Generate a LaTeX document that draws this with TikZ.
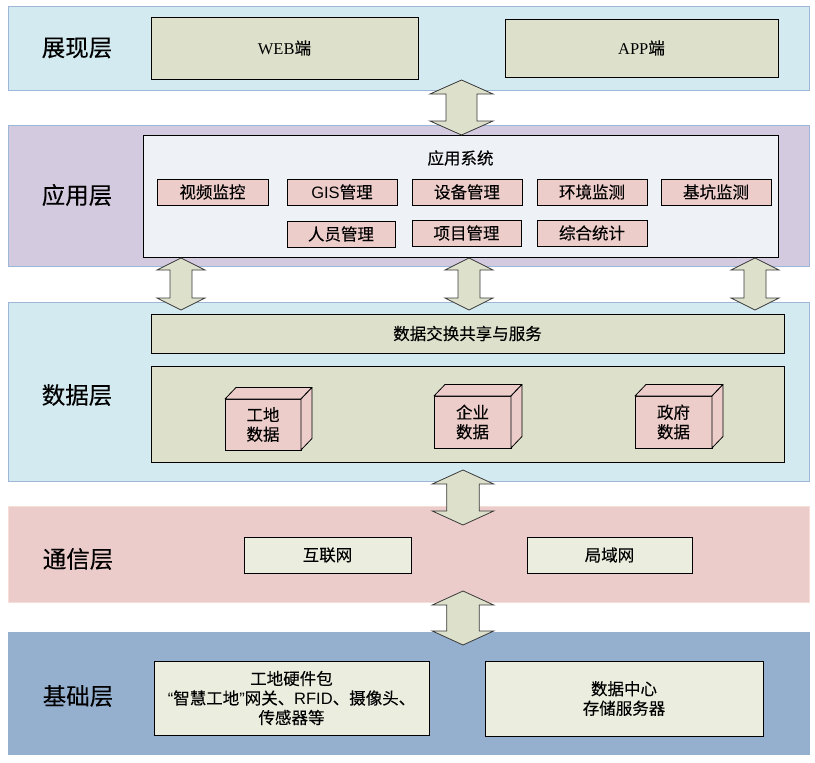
\documentclass[tikz,border=0pt]{standalone}
\usepackage{fontspec}
\setmainfont{Noto Sans CJK SC}[RawFeature={embolden=0.2}]
\newfontfamily\latsans{Liberation Sans}
\newfontfamily\latserif{Liberation Serif}
\definecolor{bandblue}{HTML}{D2EAF0}
\definecolor{bandborder}{HTML}{9EB6D8}
\definecolor{khaki}{HTML}{DDE1CB}
\definecolor{lavender}{HTML}{D4CADF}
\definecolor{paleinner}{HTML}{EEF1F6}
\definecolor{pinkbox}{HTML}{ECCDCA}
\definecolor{commband}{HTML}{EBCCCB}
\definecolor{commborder}{HTML}{F5DED6}
\definecolor{baseband}{HTML}{95AFCF}
\definecolor{paleg}{HTML}{EBEEDF}
\definecolor{arrowline}{HTML}{3A3A3A}
\newcommand\rectnode[7]{\node[#2, anchor=north west, minimum width={(#5-#3)*1pt}, minimum height={(#6-#4)*1pt}] (#1) at (#3,#4) {#7};}
% cx, top, bottom, shaft half width, head half width, head length
\newcommand\dblarrow[6]{\draw[blockarrow] (#1,#2) -- ({#1+#5},{#2+#6}) -- ({#1+#4},{#2+#6}) -- ({#1+#4},{#3-#6}) -- ({#1+#5},{#3-#6}) -- (#1,#3) -- ({#1-#5},{#3-#6}) -- ({#1-#4},{#3-#6}) -- ({#1-#4},{#2+#6}) -- ({#1-#5},{#2+#6}) -- cycle;}
\tikzset{
  base/.style={inner sep=0pt, outer sep=0pt, align=center, font=\fontsize{16.5}{19.5}\selectfont},
  band/.style={base, draw=bandborder, line width=0.8pt},
  box/.style={base, draw=black, line width=0.9pt},
  cubeface/.style={draw=black, line width=0.8pt, fill=pinkbox, line join=round},
  layerlabel/.style={inner sep=0pt, font=\fontsize{23.5}{26}\selectfont},
  blockarrow/.style={draw=arrowline, line width=0.8pt, fill=khaki, line join=miter}
}
\begin{document}
\begin{tikzpicture}[x=1pt, y=-1pt]
\useasboundingbox (0,0) rectangle (815,763);
% ---------- bands ----------
\rectnode{pres}{band, fill=bandblue}{8}{6}{809}{90}{}
\rectnode{app}{band, fill=lavender}{8}{125}{809}{266}{}
\rectnode{data}{band, fill=bandblue}{8}{302}{809}{481}{}
\rectnode{comm}{band, fill=commband, draw=commborder}{8}{506}{809}{602}{}
\rectnode{basel}{band, fill=baseband, draw=baseband}{8}{632}{809}{754}{}
% ---------- layer labels ----------
\node[layerlabel] (l1) at (77,48) {展现层};
\node[layerlabel] (l2) at (77,195) {应用层};
\node[layerlabel] (l3) at (77,395) {数据层};
\node[layerlabel] (l4) at (78,559) {通信层};
\node[layerlabel] (l5) at (78,696) {基础层};
% ---------- presentation ----------
\rectnode{web}{box, fill=khaki}{151}{17}{418}{79}{{\latserif WEB}端}
\rectnode{appc}{box, fill=khaki}{505}{19}{778}{77}{{\latserif APP}端}
% ---------- application ----------
\rectnode{sys}{box, fill=paleinner, line width=0.8pt}{143}{135}{778}{257}{}
\node[base] (systitle) at (460.5,158) {应用系统};
\rectnode{m1}{box, fill=pinkbox}{157}{179}{268}{205}{视频监控}
\rectnode{m2}{box, fill=pinkbox}{287}{179}{397}{205}{{\latsans GIS}管理}
\rectnode{m3}{box, fill=pinkbox}{412}{179}{522}{205}{设备管理}
\rectnode{m4}{box, fill=pinkbox}{537}{179}{647}{205}{环境监测}
\rectnode{m5}{box, fill=pinkbox}{661}{179}{771}{205}{基坑监测}
\rectnode{m6}{box, fill=pinkbox}{287}{221}{395}{247}{人员管理}
\rectnode{m7}{box, fill=pinkbox}{412}{220}{521}{246}{项目管理}
\rectnode{m8}{box, fill=pinkbox}{537}{220}{647}{246}{综合统计}
% ---------- data ----------
\rectnode{xchg}{box, fill=khaki}{151}{314}{784}{353}{数据交换共享与服务}
\rectnode{store}{box, fill=khaki}{151}{366}{784}{462}{}
\rectnode{c1}{box, fill=pinkbox, line width=0.8pt}{225}{399}{301}{450}{工地\\数据}
\rectnode{c2}{box, fill=pinkbox, line width=0.8pt}{434}{396}{511}{448}{企业\\数据}
\rectnode{c3}{box, fill=pinkbox, line width=0.8pt}{635}{396}{712}{448}{政府\\数据}
\foreach \c in {c1,c2,c3}{
  \draw[cubeface] (\c.north west) -- ([shift={(11,-11.5)}]\c.north west) -- ([shift={(11,-11.5)}]\c.north east) -- (\c.north east) -- cycle;
  \draw[cubeface] (\c.north east) -- ([shift={(11,-11.5)}]\c.north east) -- ([shift={(11,-11.5)}]\c.south east) -- (\c.south east) -- cycle;
}
% ---------- communication ----------
\rectnode{inet}{box, fill=paleg}{244}{537}{411}{573}{互联网}
\rectnode{lan}{box, fill=paleg}{527}{537}{692}{573}{局域网}
% ---------- base ----------
\rectnode{hw}{box, fill=paleg}{154}{661}{429}{735}{工地硬件包\\{\latsans “}智慧工地{\latsans ”}网关、{\latsans RFID}、摄像头、\\传感器等}
\rectnode{dc}{box, fill=paleg}{485}{661}{763}{736}{数据中心\\存储服务器}
% ---------- block arrows ----------
\dblarrow{461.5}{80}{135}{15.5}{31.5}{14}
\dblarrow{181}{258}{310}{11}{24}{12}
\dblarrow{469}{258}{310}{11}{24}{12}
\dblarrow{755}{258}{310}{11}{24}{12}
\dblarrow{463}{470}{525}{16.3}{30.7}{14}
\dblarrow{463}{591}{645}{16.3}{30.7}{14}
\end{tikzpicture}
\end{document}
